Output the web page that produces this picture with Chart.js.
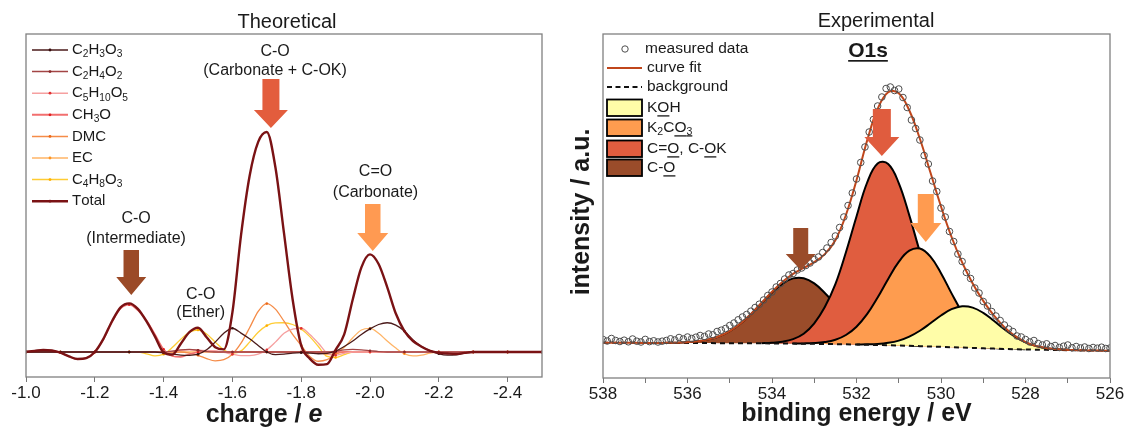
<!DOCTYPE html>
<html>
<head>
<meta charset="utf-8">
<script src="https://cdn.jsdelivr.net/npm/chart.js@4.4.1/dist/chart.umd.min.js"></script>
<style>
  body { margin: 0; background: #fff; }
  #wrap { position: relative; width: 1130px; height: 429px; }
  canvas { position: absolute; top: 0; }
</style>
</head>
<body>
<div id="wrap">
  <canvas id="theo" width="565" height="429" style="left:0"></canvas>
  <canvas id="expt" width="565" height="429" style="left:565px"></canvas>
</div>
<script>
const FONT = 'Arial, "Liberation Sans", Helvetica, sans-serif';
Chart.defaults.font.family = FONT;
Chart.defaults.color = '#1a1a1a';

// ---------- Theoretical: charge distribution ----------
const charge = [
  -1, -1.025, -1.05, -1.075, -1.1, -1.125, -1.15, -1.175, -1.2, -1.225,
  -1.25, -1.275, -1.3, -1.325, -1.35, -1.375, -1.4, -1.425, -1.45, -1.475,
  -1.5, -1.525, -1.55, -1.575, -1.6, -1.625, -1.65, -1.675, -1.7, -1.725,
  -1.75, -1.775, -1.8, -1.825, -1.85, -1.875, -1.9, -1.925, -1.95, -1.975,
  -2, -2.025, -2.05, -2.075, -2.1, -2.125, -2.15, -2.175, -2.2, -2.225,
  -2.25, -2.275, -2.3, -2.325, -2.35, -2.375, -2.4, -2.425, -2.45, -2.475,
  -2.5
];
const chargeTicks = [-1.0, -1.2, -1.4, -1.6, -1.8, -2.0, -2.2, -2.4];

const c2h3o3 = [
  0, 0, 0, 0, 0, 0, 0, 0, 0, 0,
  0, 0, 0, 0, 0, 0, -0.004, -0.01, -0.014, -0.015,
  -0.01, 0.01, 0.045, 0.085, 0.108, 0.086, 0.06, 0.03, 0, -0.012,
  -0.01, -0.005, -0.003, -0.005, -0.008, -0.006, 0.004, 0.025, 0.05, 0.08,
  0.105, 0.125, 0.133, 0.122, 0.095, 0.055, 0.025, 0.006, -0.008, -0.014,
  -0.013, -0.005, 0, 0, 0, 0, 0, 0, 0, 0,
  0
];
const c2h4o2 = [
  0, 0, 0, 0, 0, 0, 0, 0, 0, 0,
  0, 0, 0, 0, 0, 0, 0, 0.004, 0.01, 0.012,
  0.008, 0.002, 0, 0, 0, 0, 0, 0, 0, 0,
  0, 0, 0, 0, 0, 0, 0.004, 0.01, 0.012, 0.01,
  0.006, 0.002, 0, 0, 0, 0, 0, 0, 0, 0,
  0, 0, 0, 0, 0, 0, 0, 0, 0, 0,
  0
];
const c5h10o5 = [
  0, 0, 0, 0, 0, 0, 0, 0, 0, 0,
  0, 0, 0, 0, 0, 0, 0, 0.003, 0.008, 0.01,
  0.008, 0.006, 0.004, -0.002, -0.01, -0.016, -0.016, -0.01, 0.01, 0.045,
  0.085, 0.104, 0.108, 0.08, 0.04, -0.005, -0.015, -0.006, 0, 0,
  0, 0, 0, 0, 0, 0, 0, 0, 0, 0,
  0, 0, 0, 0, 0, 0, 0, 0, 0, 0,
  0
];
const ch3o = [
  0, 0.004, 0.008, 0.007, -0.003, -0.02, -0.032, -0.028, 0, 0.058,
  0.136, 0.198, 0.215, 0.19, 0.145, 0.08, 0.012, -0.018, -0.022, -0.01,
  0, 0.004, 0.003, 0, 0, 0, 0, 0, 0, 0,
  0, 0, 0, 0, 0, 0, 0, 0, 0, 0,
  0, 0, 0, 0, 0, 0, 0, 0, 0, 0,
  0, 0, 0, 0, 0, 0, 0, 0, 0, 0,
  0
];
const dmc = [
  0, 0, 0, 0, 0, 0, 0, 0, 0, 0,
  0, 0, 0, 0, 0, 0, 0, 0, 0, -0.005,
  -0.015, -0.03, -0.04, -0.035, -0.01, 0.04, 0.11, 0.185, 0.22, 0.195,
  0.14, 0.08, 0.03, -0.02, -0.042, -0.035, -0.01, 0, 0, 0,
  0, 0, 0, 0, 0, 0, 0, 0, 0, 0,
  0, 0, 0, 0, 0, 0, 0, 0, 0, 0,
  0
];
const ec = [
  0, 0, 0, 0, 0, 0, 0, 0, 0, 0,
  0, 0, 0, 0, 0, 0, 0, 0, 0, 0,
  0, 0, 0, 0, 0, 0, 0, 0, 0, 0,
  0, 0, 0, 0, 0, -0.012, -0.005, 0.02, 0.065, 0.1,
  0.107, 0.085, 0.05, 0.018, -0.008, -0.018, -0.014, -0.005, 0, 0,
  0, 0, 0, 0, 0, 0, 0, 0, 0, 0,
  0
];
const c4h8o3 = [
  0, 0, 0, 0, 0, 0, 0, 0, 0, 0,
  0, 0, 0, 0, -0.008, -0.018, -0.01, 0.02, 0.058, 0.09,
  0.1, 0.082, 0.045, 0.01, -0.005, 0.005, 0.045, 0.09, 0.12, 0.132,
  0.133, 0.125, 0.105, 0.07, 0.025, -0.02, -0.025, -0.012, 0, 0,
  0, 0, 0, 0, 0, 0, 0, 0, 0, 0,
  0, 0, 0, 0, 0, 0, 0, 0, 0, 0,
  0
];
const total = [
  0.001, 0.005, 0.009, 0.007, -0.003, -0.02, -0.032, -0.028, 0, 0.06,
  0.14, 0.203, 0.221, 0.196, 0.14, 0.07, -0.002, -0.012, 0.038, 0.09,
  0.11, 0.067, 0.022, 0.012, 0.18, 0.53, 0.8, 0.955, 1.0, 0.84,
  0.54, 0.24, 0.03, -0.03, -0.058, -0.055, 0.01, 0.08, 0.24, 0.385,
  0.444, 0.4, 0.295, 0.175, 0.095, 0.05, 0.024, 0.005, -0.004, -0.007,
  -0.009, -0.004, 0, 0, 0, 0, 0, 0, 0, 0,
  0
];

// ---------- Experimental: O1s XPS ----------
const bindingEnergy = [
  538, 537.75, 537.5, 537.25, 537, 536.75, 536.5, 536.25, 536, 535.75,
  535.5, 535.25, 535, 534.75, 534.5, 534.25, 534, 533.75, 533.5, 533.25,
  533, 532.75, 532.5, 532.25, 532, 531.75, 531.5, 531.25, 531, 530.75,
  530.5, 530.25, 530, 529.75, 529.5, 529.25, 529, 528.75, 528.5, 528.25,
  528, 527.75, 527.5, 527.25, 527, 526.75, 526.5, 526.25, 526
];
const energyTicks = [538, 537, 536, 535, 534, 533, 532, 531, 530, 529, 528, 527, 526];
const background = [
  35.3, 35.25, 35.2, 35.15, 35.1, 35.1, 35.05, 35.0, 35.0, 34.95,
  34.9, 34.85, 34.8, 34.75, 34.7, 34.65, 34.6, 34.5, 34.4, 34.3,
  34.2, 34.0, 33.85, 33.7, 33.5, 33.25, 33.0, 32.75, 32.5, 32.2,
  31.85, 31.5, 31.2, 30.8, 30.45, 30.1, 29.7, 29.4, 29.1, 28.8,
  28.5, 28.3, 28.15, 28.0, 27.8, 27.7, 27.55, 27.4, 27.3
];
const etherPeak = [
  0, 0, 0, 0, 0, 0, 0.1, 0.3, 0.8, 1.8,
  3.7, 6.9, 12.1, 19.5, 29.1, 40.1, 51.0, 59.9, 65.2, 65.5,
  60.4, 51.0, 39.6, 28.0, 18.3, 11.0, 6.0, 3.0, 1.4, 0.6,
  0.2, 0.1, 0, 0, 0, 0, 0, 0, 0, 0,
  0, 0, 0, 0, 0, 0, 0, 0, 0
];
const carbonylPeak = [
  0, 0, 0, 0, 0, 0, 0, 0, 0, 0,
  0, 0, 0, 0, 0, 0.2, 0.6, 1.8, 4.5, 10,
  20.5, 37, 60, 92, 128, 162, 181.5, 181.3, 162.4, 130.4,
  94.2, 60.9, 35.4, 18.4, 8.6, 3.6, 1.4, 0.5, 0.1, 0,
  0, 0, 0, 0, 0, 0, 0, 0, 0
];
const k2co3Peak = [
  0, 0, 0, 0, 0, 0, 0, 0, 0, 0,
  0, 0, 0, 0, 0, 0, 0, 0, 0.1, 0.3,
  0.7, 1.9, 4.4, 9.3, 17.8, 30.6, 47.5, 66.3, 83.6, 95.1,
  97.6, 89.8, 73.6, 53.8, 35.2, 20.5, 10.6, 4.9, 2.1, 0.8,
  0.2, 0.1, 0, 0, 0, 0, 0, 0, 0
];
const kohPeak = [
  0, 0, 0, 0, 0, 0, 0, 0, 0, 0,
  0, 0, 0, 0, 0, 0, 0, 0, 0, 0,
  0, 0, 0, 0, 0.1, 0.4, 1.0, 2.4, 4.9, 9.2,
  15.4, 23.2, 31.3, 38.0, 41.3, 40.3, 35.4, 27.8, 19.6, 12.5,
  7.1, 3.6, 1.7, 0.7, 0.3, 0.1, 0, 0, 0
];
const measuredEnergy = [
  538.0, 537.9, 537.8, 537.7, 537.6, 537.5, 537.4, 537.3, 537.2, 537.1,
  537.0, 536.9, 536.8, 536.7, 536.6, 536.5, 536.4, 536.3, 536.2, 536.1,
  536.0, 535.9, 535.8, 535.7, 535.6, 535.5, 535.4, 535.3, 535.2, 535.1,
  535.0, 534.9, 534.8, 534.7, 534.6, 534.5, 534.4, 534.3, 534.2, 534.1,
  534.0, 533.9, 533.8, 533.7, 533.6, 533.5, 533.4, 533.3, 533.2, 533.1,
  533.0, 532.9, 532.8, 532.7, 532.6, 532.5, 532.4, 532.3, 532.2, 532.1,
  532.0, 531.9, 531.8, 531.7, 531.6, 531.5, 531.4, 531.3, 531.2, 531.1,
  531.0, 530.9, 530.8, 530.7, 530.6, 530.5, 530.4, 530.3, 530.2, 530.1,
  530.0, 529.9, 529.8, 529.7, 529.6, 529.5, 529.4, 529.3, 529.2, 529.1,
  529.0, 528.9, 528.8, 528.7, 528.6, 528.5, 528.4, 528.3, 528.2, 528.1,
  528.0, 527.9, 527.8, 527.7, 527.6, 527.5, 527.4, 527.3, 527.2, 527.1,
  527.0, 526.9, 526.8, 526.7, 526.6, 526.5, 526.4, 526.3, 526.2, 526.1,
  526.0
];
const measuredCounts = [
  38.5, 37.0, 39.5, 37.5, 36.5, 37.8, 36.2, 39.0, 36.8, 36.0,
  38.6, 36.4, 37.2, 36.0, 36.8, 37.5, 39.2, 38.0, 40.5, 39.0,
  41.0, 39.5, 40.8, 42.5, 41.6, 44.0, 43.2, 46.5, 47.8, 49.5,
  52.5, 55.0, 58.2, 61.0, 63.5, 66.8, 70.5, 73.8, 78.0, 82.5,
  86.0, 91.0, 94.5, 99.0, 103.0, 104.5, 108.0, 110.0, 112.5, 115.0,
  118.5, 121.0, 125.5, 130.0, 135.5, 142.0, 150.5, 161.0, 172.5, 185.0,
  199.0, 215.5, 231.0, 246.0, 258.5, 272.0, 281.0, 289.5, 291.0, 287.5,
  289.0, 280.5, 270.5, 258.0, 249.5, 238.0, 222.5, 214.0, 197.0, 186.5,
  170.0, 161.0, 146.5, 136.5, 124.0, 116.5, 105.5, 99.5, 90.0, 85.0,
  76.5, 72.0, 66.5, 62.0, 57.5, 53.0, 49.0, 46.5, 42.0, 41.0,
  38.5, 36.0, 37.5, 34.5, 33.0, 34.2, 31.5, 32.5, 30.5, 31.8,
  33.0, 30.2, 31.5, 30.0, 31.0, 29.5, 30.5, 29.8, 30.8, 29.5,
  30.0
];

// ---------- helpers ----------
function xy(xs, ys) { return xs.map((x, i) => ({ x: x, y: ys[i] })); }

// digits become subscripts, [..] is underlined
function drawRich(ctx, str, x, y, size) {
  let under = false;
  ctx.textAlign = 'left';
  ctx.textBaseline = 'middle';
  for (const ch of str) {
    if (ch === '[') { under = true; continue; }
    if (ch === ']') { under = false; continue; }
    const sub = /[0-9]/.test(ch);
    const fs = sub ? size * 0.68 : size;
    ctx.font = fs + 'px ' + FONT;
    ctx.fillText(ch, x, y + (sub ? size * 0.3 : 0));
    const w = ctx.measureText(ch).width;
    if (under) ctx.fillRect(x, y + size * 0.5, w, 1.3);
    x += w;
  }
}

function drawArrow(ctx, x, a) {
  const y2 = a.top + a.shaft;
  ctx.fillStyle = a.color;
  ctx.beginPath();
  ctx.moveTo(x - a.sw / 2, a.top);
  ctx.lineTo(x + a.sw / 2, a.top);
  ctx.lineTo(x + a.sw / 2, y2);
  ctx.lineTo(x + a.hw / 2, y2);
  ctx.lineTo(x, y2 + a.head);
  ctx.lineTo(x - a.hw / 2, y2);
  ctx.lineTo(x - a.sw / 2, y2);
  ctx.closePath();
  ctx.fill();
}

function everyFourth(r) { return ctx => (ctx.dataIndex % 4 === 0 ? r : 0); }

// ---------- Theoretical chart ----------
function comp(label, data, color, dot, width, order) {
  return {
    label, data: xy(charge, data), borderColor: color, dotColor: dot,
    borderWidth: width, pointRadius: everyFourth(1.3), pointBackgroundColor: dot,
    pointBorderWidth: 0, cubicInterpolationMode: 'monotone', order
  };
}

const theoDatasets = [
  comp('C2H3O3', c2h3o3, '#4A1A1A', '#3A0E0E', 1.3, 1),
  comp('C2H4O2', c2h4o2, '#A34545', '#8A2A2A', 1.3, 1),
  comp('C5H10O5', c5h10o5, '#F6A0A0', '#E03030', 1.3, 1),
  comp('CH3O', ch3o, '#F26F6F', '#E02020', 1.6, 1),
  comp('DMC', dmc, '#F58C48', '#EC6A18', 1.3, 1),
  comp('EC', ec, '#FFB466', '#FF9520', 1.3, 1),
  comp('C4H8O3', c4h8o3, '#FFCC33', '#FFAE00', 1.3, 1),
  {
    label: 'Total', data: xy(charge, total), borderColor: '#7A1214', dotColor: '#7A1214',
    borderWidth: 2.4, pointRadius: 0, cubicInterpolationMode: 'monotone', order: 0
  }
];

const theoNotes = [
  { c: -1.724, lines: ['C-O', '(Carbonate + C-OK)'], ys: [52, 71],
    arrow: { c: -1.712, top: 79, shaft: 31, head: 18, sw: 17, hw: 34, color: '#E35D3D' } },
  { c: -2.016, lines: ['C=O', '(Carbonate)'], ys: [172, 193],
    arrow: { c: -2.008, top: 204, shaft: 29, head: 18, sw: 15.5, hw: 31, color: '#FF9A52' } },
  { c: -1.320, lines: ['C-O', '(Intermediate)'], ys: [219, 239],
    arrow: { c: -1.306, top: 250, shaft: 27, head: 18, sw: 15.5, hw: 30, color: '#9B4A27' } },
  { c: -1.508, lines: ['C-O', '(Ether)'], ys: [295, 313] }
];

const theoDecor = {
  id: 'theoDecor',
  afterDraw(chart) {
    const { ctx, chartArea: a } = chart;
    const x = chart.scales.x;
    ctx.save();
    ctx.strokeStyle = '#808080';
    ctx.lineWidth = 1.3;
    ctx.strokeRect(a.left, a.top, a.right - a.left, a.bottom - a.top);

    ctx.fillStyle = '#1a1a1a';
    ctx.textAlign = 'center';
    ctx.textBaseline = 'middle';
    ctx.font = '20px ' + FONT;
    ctx.fillText('Theoretical', 287, 22);

    // axis title: charge / e (italic e)
    ctx.font = 'bold 25px ' + FONT;
    const p1 = 'charge / ';
    const w1 = ctx.measureText(p1).width;
    ctx.font = 'italic bold 25px ' + FONT;
    const w2 = ctx.measureText('e').width;
    let sx = 264 - (w1 + w2) / 2;
    ctx.textAlign = 'left';
    ctx.font = 'bold 25px ' + FONT;
    ctx.fillText(p1, sx, 415);
    ctx.font = 'italic bold 25px ' + FONT;
    ctx.fillText('e', sx + w1, 415);

    // peak labels and arrows
    ctx.textAlign = 'center';
    ctx.font = '16px ' + FONT;
    theoNotes.forEach(n => {
      ctx.fillStyle = '#1a1a1a';
      ctx.font = '16px ' + FONT;
      ctx.textAlign = 'center';
      n.lines.forEach((t, i) => ctx.fillText(t, x.getPixelForValue(n.c), n.ys[i]));
      if (n.arrow) drawArrow(ctx, x.getPixelForValue(n.arrow.c), n.arrow);
    });

    // legend
    chart.data.datasets.forEach((d, i) => {
      const y = 50 + 21.6 * i;
      ctx.strokeStyle = d.borderColor;
      ctx.lineWidth = d.label === 'Total' ? 2.5 : (d.borderWidth > 1.4 ? 2 : 1.5);
      ctx.beginPath();
      ctx.moveTo(32, y);
      ctx.lineTo(68, y);
      ctx.stroke();
      ctx.fillStyle = d.dotColor;
      ctx.beginPath();
      ctx.arc(50, y, 1.4, 0, Math.PI * 2);
      ctx.fill();
      ctx.fillStyle = '#1a1a1a';
      drawRich(ctx, d.label, 72, y, 15);
    });
    ctx.restore();
  }
};

new Chart(document.getElementById('theo'), {
  type: 'line',
  data: { datasets: theoDatasets },
  options: {
    responsive: false,
    animation: false,
    layout: { padding: { left: 26, right: 23, top: 34, bottom: 0 } },
    plugins: { legend: { display: false }, tooltip: { enabled: false } },
    scales: {
      x: {
        type: 'linear', reverse: true, min: -2.5, max: -1.0,
        afterBuildTicks: s => { s.ticks = chargeTicks.map(v => ({ value: v })); },
        afterFit: s => { s.height = 52; },
        grid: { drawOnChartArea: false, drawTicks: true, tickLength: 5, color: '#777' },
        border: { display: false },
        ticks: { callback: v => v.toFixed(1), font: { size: 17 }, color: '#1a1a1a',
                 padding: 1, maxRotation: 0, autoSkip: false }
      },
      y: { display: false, min: -0.1136, max: 1.4455 }
    }
  },
  plugins: [theoDecor]
});

// ---------- Experimental chart ----------
function peakPoints(c) {
  const pts = [];
  c.forEach((v, i) => {
    if (v >= 0.3 || c[i - 1] >= 0.3 || c[i + 1] >= 0.3) {
      pts.push({ x: bindingEnergy[i], y: background[i] + v });
    }
  });
  return pts;
}
const fitCurve = bindingEnergy.map((e, i) => ({
  x: e, y: background[i] + etherPeak[i] + carbonylPeak[i] + k2co3Peak[i] + kohPeak[i]
}));

const exptDatasets = [
  { label: 'measured data', data: xy(measuredEnergy, measuredCounts), showLine: false,
    pointRadius: 3.3, pointBorderWidth: 1, pointBorderColor: '#4d4d4d',
    pointBackgroundColor: 'rgba(255,255,255,0)', order: 0 },
  { label: 'curve fit', data: fitCurve, borderColor: '#C0461B', borderWidth: 2,
    pointRadius: 0, tension: 0.4, order: 1 },
  { label: 'background', data: xy(bindingEnergy, background), borderColor: '#111',
    borderWidth: 2, borderDash: [5, 4], pointRadius: 0, order: 2 },
  { label: 'K[O]H', data: peakPoints(kohPeak), backgroundColor: '#FFFDA8',
    borderColor: '#000', borderWidth: 2, pointRadius: 0, tension: 0.4, fill: { target: 2 }, order: 3 },
  { label: 'K2C[O3]', data: peakPoints(k2co3Peak), backgroundColor: '#FE9C4F',
    borderColor: '#000', borderWidth: 2, pointRadius: 0, tension: 0.4, fill: { target: 2 }, order: 4 },
  { label: 'C=[O], C-[O]K', data: peakPoints(carbonylPeak), backgroundColor: '#E05D3F',
    borderColor: '#000', borderWidth: 2, pointRadius: 0, tension: 0.4, fill: { target: 2 }, order: 5 },
  { label: 'C-[O]', data: peakPoints(etherPeak), backgroundColor: '#9A4C2A',
    borderColor: '#000', borderWidth: 2, pointRadius: 0, tension: 0.4, fill: { target: 2 }, order: 6 }
];

const exptArrows = [
  { be: 533.32, top: 228, shaft: 26, head: 16, sw: 15, hw: 30, color: '#9A4C2A' },
  { be: 531.40, top: 109, shaft: 28, head: 19, sw: 18, hw: 35, color: '#E05C3E' },
  { be: 530.36, top: 194, shaft: 29, head: 19, sw: 16, hw: 31, color: '#FF9B50' }
];

const exptDecor = {
  id: 'exptDecor',
  afterDraw(chart) {
    const { ctx, chartArea: a } = chart;
    const x = chart.scales.x;
    ctx.save();
    exptArrows.forEach(ar => drawArrow(ctx, x.getPixelForValue(ar.be), ar));

    ctx.strokeStyle = '#808080';
    ctx.lineWidth = 1.3;
    ctx.strokeRect(a.left, a.top, a.right - a.left, a.bottom - a.top);

    ctx.fillStyle = '#1a1a1a';
    ctx.textAlign = 'center';
    ctx.textBaseline = 'middle';
    ctx.font = '20px ' + FONT;
    ctx.fillText('Experimental', 311, 21);

    ctx.font = 'bold 21px ' + FONT;
    ctx.fillText('O1s', 303, 51);
    const ow = ctx.measureText('O1s').width;
    ctx.fillRect(303 - ow / 2, 60, ow, 1.7);

    ctx.font = 'bold 25px ' + FONT;
    ctx.fillText('binding energy / eV', (a.left + a.right) / 2, 414);
    ctx.save();
    ctx.translate(17, 212);
    ctx.rotate(-Math.PI / 2);
    ctx.fillText('intensity / a.u.', 0, 0);
    ctx.restore();

    // legend
    const d = chart.data.datasets;
    ctx.strokeStyle = '#4d4d4d';
    ctx.lineWidth = 1;
    ctx.beginPath();
    ctx.arc(60, 49, 3.2, 0, Math.PI * 2);
    ctx.stroke();
    ctx.fillStyle = '#1a1a1a';
    drawRich(ctx, d[0].label, 80, 49, 15.5);

    ctx.strokeStyle = d[1].borderColor;
    ctx.lineWidth = 2;
    ctx.beginPath(); ctx.moveTo(42, 68); ctx.lineTo(77, 68); ctx.stroke();
    ctx.fillStyle = '#1a1a1a';
    drawRich(ctx, d[1].label, 82, 68, 15.5);

    ctx.strokeStyle = '#111';
    ctx.setLineDash([5, 3.5]);
    ctx.beginPath(); ctx.moveTo(42, 87); ctx.lineTo(77, 87); ctx.stroke();
    ctx.setLineDash([]);
    ctx.fillStyle = '#1a1a1a';
    drawRich(ctx, d[2].label, 82, 87, 15.5);

    [107.5, 127.5, 148.5, 167.5].forEach((y, k) => {
      const ds = d[3 + k];
      ctx.fillStyle = ds.backgroundColor;
      ctx.fillRect(42, y - 8, 35, 16.5);
      ctx.strokeStyle = '#000';
      ctx.lineWidth = 1.8;
      ctx.strokeRect(42, y - 8, 35, 16.5);
      ctx.fillStyle = '#1a1a1a';
      drawRich(ctx, ds.label, 82, y, 15.5);
    });
    ctx.restore();
  }
};

new Chart(document.getElementById('expt'), {
  type: 'line',
  data: { datasets: exptDatasets },
  options: {
    responsive: false,
    animation: false,
    layout: { padding: { left: 38, right: 20, top: 34, bottom: 0 } },
    plugins: { legend: { display: false }, tooltip: { enabled: false } },
    scales: {
      x: {
        type: 'linear', reverse: true, min: 526, max: 538,
        afterBuildTicks: s => { s.ticks = energyTicks.map(v => ({ value: v })); },
        afterFit: s => { s.height = 51; },
        grid: { drawOnChartArea: false, drawTicks: true, tickLength: 5, color: '#777' },
        border: { display: false },
        ticks: { callback: v => (v % 2 === 0 ? String(v) : ''), font: { size: 17 },
                 color: '#1a1a1a', padding: 1, maxRotation: 0, autoSkip: false }
      },
      y: { display: false, min: 0, max: 344 }
    }
  },
  plugins: [exptDecor]
});
</script>
</body>
</html>
